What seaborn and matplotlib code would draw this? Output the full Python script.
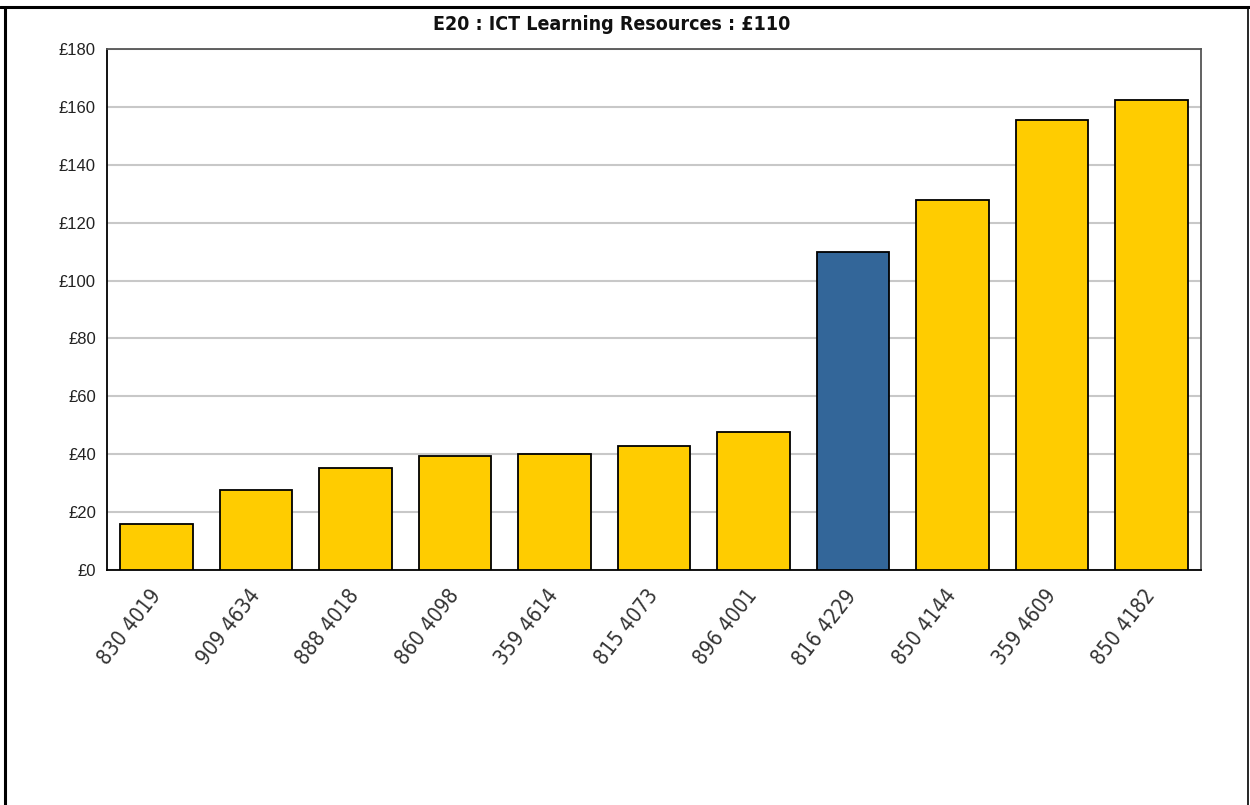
import matplotlib
matplotlib.use("Agg")
import matplotlib.pyplot as plt
from matplotlib.lines import Line2D
from matplotlib.ticker import FuncFormatter
import seaborn as sns

# school codes, sorted by spend
schools = ["830 4019", "909 4634", "888 4018", "860 4098", "359 4614", "815 4073",
           "896 4001", "816 4229", "850 4144", "359 4609", "850 4182"]
spend = [15.8, 27.6, 35.1, 39.3, 40.0, 42.9, 47.6, 110.0, 127.9, 155.4, 162.3]
this_school = "816 4229"
title = "E20 : ICT Learning Resources : £110"
yticks = [0, 20, 40, 60, 80, 100, 120, 140, 160, 180]

yellow = "#FFCC00"
blue = "#336699"
colors = [blue if s == this_school else yellow for s in schools]

sns.set_style("white")
plt.rcParams["font.family"] = ["Liberation Sans", "DejaVu Sans"]

fig = plt.figure(figsize=(12.5, 8.05), dpi=100)
ax = fig.add_axes([107 / 1250, 1 - 570 / 805, 1094 / 1250, 521 / 805])

sns.barplot(x=schools, y=spend, hue=schools, palette=colors, legend=False,
            width=0.73, edgecolor="black", linewidth=1.3, saturation=1, ax=ax, zorder=3)

ax.set_ylim(0, 180)
ax.set_yticks(yticks)
ax.yaxis.set_major_formatter(FuncFormatter(lambda v, p: f"£{v:.0f}"))
ax.set_xlim(-0.5, len(schools) - 0.5)
ax.grid(axis="y", color="#c8c8c8", linewidth=1.5, zorder=0)
ax.set_axisbelow(True)
ax.set_xlabel("")
ax.set_ylabel("")

for side in ["left", "bottom"]:
    ax.spines[side].set_color("black")
    ax.spines[side].set_linewidth(1.3)
for side in ["top", "right"]:
    ax.spines[side].set_visible(True)
    ax.spines[side].set_color("#555555")
    ax.spines[side].set_linewidth(1.3)

ax.tick_params(axis="both", direction="out", length=6, width=1.2, color="black",
               labelsize=12, labelcolor="#222222")
ax.tick_params(axis="y", pad=2)
ax.tick_params(axis="x", pad=10)
plt.setp(ax.get_xticklabels(), rotation=52, ha="right", va="center", rotation_mode="anchor",
         fontsize=15, family=["DejaVu Sans"], fontstretch="condensed", color="#333333")

fig.text(612 / 1250, 1 - 25 / 805, title, ha="center", va="center",
         fontsize=14, fontweight="bold", color="#111111",
         family=["DejaVu Sans"], fontstretch="condensed")

# outer frame lines
fig.add_artist(Line2D([0, 1], [1 - 7 / 805, 1 - 7 / 805], color="black", linewidth=2.2))
fig.add_artist(Line2D([5 / 1250, 5 / 1250], [0, 1 - 7 / 805], color="black", linewidth=2.2))
fig.add_artist(Line2D([1248 / 1250, 1248 / 1250], [0, 1 - 7 / 805], color="black", linewidth=1.2))

fig.savefig("out.png", dpi=100, facecolor="white")
